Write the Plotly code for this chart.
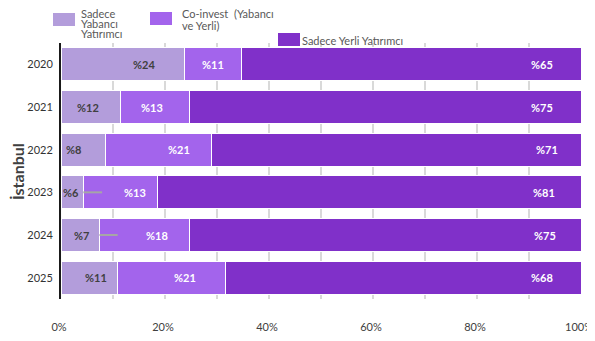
import plotly.graph_objects as go

years = ["2020", "2021", "2022", "2023", "2024", "2025"]

# bar widths (%)
foreign_only = [23.7, 11.5, 8.5, 4.4, 7.4, 10.8]
co_invest = [11.1, 13.2, 20.5, 14.1, 17.3, 20.8]
local_only = [65.2, 75.3, 71.0, 81.5, 75.3, 68.4]

# printed data labels
foreign_lbl = ["%24", "%12", "%8", "%6", "%7", "%11"]
co_lbl = ["%11", "%13", "%21", "%13", "%18", "%21"]
local_lbl = ["%65", "%75", "%71", "%81", "%75", "%68"]

series_names = ["Sadece Yabancı Yatırımcı", "Co-invest (Yabancı ve Yerli)", "Sadece Yerli Yatırımcı"]
COLORS = ["#b39ddb", "#a364ec", "#8030c9"]

# label placement (x in %), hand-nudged like the original
foreign_lbl_x = [16.0, 5.2, 2.4, 2.0, 4.0, 6.8]
co_lbl_x = [29.2, 17.5, 22.7, 14.2, 18.5, 23.8]
local_lbl_x = [92.5, 92.5, 93.5, 92.8, 93.0, 92.5]

# page body adds an 8px margin, so the figure is laid out 8px smaller
OFF = 8
W, H = 595 - OFF, 341 - OFF
L, R, T, B = 61 - OFF, 14, 43 - OFF, 42

pos = list(range(len(years)))


def px(x):
    return (x - OFF - L) / (W - L - R)


def py(y):
    return (H - B - (y - OFF)) / (H - T - B)


fig = go.Figure()
for vals, name, col in zip([foreign_only, co_invest, local_only], series_names, COLORS):
    fig.add_trace(go.Bar(
        y=pos, x=vals, name=name, orientation="h",
        marker=dict(color=col, line=dict(color="white", width=1)),
    ))

# data labels
for xs, texts, col in [(foreign_lbl_x, foreign_lbl, "#404040"),
                       (co_lbl_x, co_lbl, "white"),
                       (local_lbl_x, local_lbl, "white")]:
    for i, (x, t) in enumerate(zip(xs, texts)):
        fig.add_annotation(x=x, y=i, xref="x", yref="y", text=f"<b>{t}</b>", showarrow=False,
                           font=dict(size=11, color=col, family="Lato"))

# leader lines for the small labels
for i, x0, x1 in [(3, 4.3, 7.9), (4, 7.4, 10.9)]:
    fig.add_shape(type="line", xref="x", yref="y", x0=x0, x1=x1, y0=i, y1=i,
                  line=dict(color="#a6a6a6", width=2))

# manual legend (positions in page pixels): swatch x, swatch y, colour, text x, lines, first line y, line step
legend_items = [
    (53, 13, COLORS[0], 79, ["Sadece", "Yabancı", "Yatırımcı"], 13, 10),
    (150, 12, COLORS[1], 180, ["Co-invest  (Yabancı", "ve Yerli)"], 13, 12),
    (278, 33, COLORS[2], 300, ["Sadece Yerli Yatırımcı"], 40, 0),
]
for sx, sy, col, tx, lines, ty, step in legend_items:
    fig.add_shape(type="rect", xref="paper", yref="paper",
                  x0=px(sx), x1=px(sx + 22), y0=py(sy + 13), y1=py(sy),
                  fillcolor=col, line=dict(width=0), layer="above")
    for k, ln in enumerate(lines):
        fig.add_annotation(xref="paper", yref="paper", x=px(tx), y=py(ty + k * step),
                           text=ln, showarrow=False, xanchor="left", yanchor="middle",
                           font=dict(size=11, color="#595959", family="Lato"))

fig.add_annotation(xref="paper", yref="paper", x=px(17), y=py(172), text="<b>İstanbul</b>",
                   textangle=-90, showarrow=False, xanchor="center", yanchor="middle",
                   font=dict(size=16, color="#404040", family="Lato"))

xticks = [0, 20, 40, 60, 80, 100]

fig.update_layout(
    barmode="stack",
    bargap=0.22,
    width=W, height=H,
    margin=dict(l=L, r=R, t=T, b=B, autoexpand=False),
    plot_bgcolor="white",
    paper_bgcolor="white",
    showlegend=False,
    font=dict(family="Lato", color="#404040", size=11),
    xaxis=dict(
        range=[0, 100], tickvals=xticks, ticktext=[f"{v}%" for v in xticks],
        showgrid=True, gridcolor="#d9d9d9", gridwidth=2,
        minor=dict(tickvals=[10, 30, 50, 70, 90], showgrid=True, gridcolor="#d9d9d9", gridwidth=2),
        zeroline=False, ticks="outside", ticklen=18, tickcolor="rgba(0,0,0,0)",
        ticklabeloverflow="allow", ticklabelshift=-2,
        tickfont=dict(size=11, color="#404040"),
    ),
    yaxis=dict(
        range=[len(years) - 0.5, -0.5], tickvals=pos, ticktext=years,
        showgrid=False, zeroline=False,
        showline=True, linecolor="#1a1a1a", linewidth=2,
        ticks="outside", ticklen=4, tickcolor="rgba(0,0,0,0)",
        tickfont=dict(size=11, color="#333333"),
    ),
)

fig.write_html("out.html")
